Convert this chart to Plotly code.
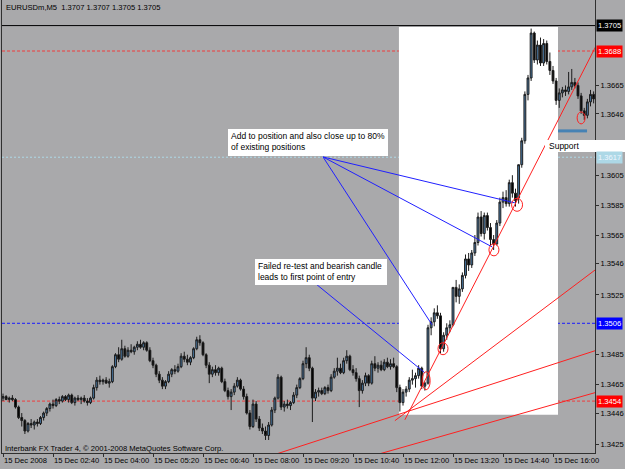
import plotly.graph_objects as go

# ---------------- data ----------------
bars = list(range(190))  # M5 bars, 15 Dec 2008 from 01:20

tick_bars = [0, 16, 32, 48, 64, 80, 96, 112, 128, 144, 160, 176]
tick_labels = ["15 Dec 2008", "15 Dec 02:40", "15 Dec 04:00", "15 Dec 05:20",
               "15 Dec 06:40", "15 Dec 08:00", "15 Dec 09:20", "15 Dec 10:40",
               "15 Dec 12:00", "15 Dec 13:20", "15 Dec 14:40", "15 Dec 16:00"]

opens = [
 1.3456,1.3457,1.3455,1.3456,1.3455,1.3450,1.3443,1.3441,1.3434,1.3439,
 1.3438,1.3440,1.3439,1.3443,1.3446,1.3449,1.3452,1.3451,1.3455,1.3454,
 1.3457,1.3455,1.3458,1.3453,1.3456,1.3455,1.3456,1.3454,1.3453,1.3456,
 1.3463,1.3468,1.3467,1.3468,1.3466,1.3467,1.3477,1.3485,1.3482,1.3489,
 1.3484,1.3488,1.3487,1.3490,1.3492,1.3490,1.3493,1.3488,1.3481,1.3478,
 1.3472,1.3468,1.3464,1.3467,1.3472,1.3475,1.3474,1.3477,1.3484,1.3482,
 1.3480,1.3483,1.3489,1.3495,1.3493,1.3485,1.3478,1.3472,1.3475,1.3473,
 1.3476,1.3467,1.3461,1.3457,1.3460,1.3464,1.3468,1.3462,1.3457,1.3446,
 1.3437,1.3452,1.3442,1.3436,1.3434,1.3431,1.3438,1.3448,1.3456,1.3470,
 1.3450,1.3452,1.3451,1.3453,1.3458,1.3463,1.3469,1.3479,1.3483,1.3476,
 1.3456,1.3460,1.3461,1.3459,1.3463,1.3461,1.3470,1.3474,1.3476,1.3473,
 1.3481,1.3484,1.3475,1.3473,1.3469,1.3461,1.3466,1.3471,1.3466,1.3479,
 1.3476,1.3478,1.3475,1.3480,1.3477,1.3479,1.3477,1.3463,1.3453,1.3460,
 1.3462,1.3468,1.3469,1.3471,1.3476,1.3464,1.3466,1.3503,1.3507,1.3513,
 1.3511,1.3489,1.3498,1.3503,1.3505,1.3530,1.3524,1.3529,1.3538,1.3549,
 1.3545,1.3553,1.3560,1.3577,1.3566,1.3578,1.3570,1.3562,1.3559,1.3573,
 1.3587,1.3590,1.3586,1.3600,1.3593,1.3590,1.3612,1.3628,1.3659,1.3670,
 1.3700,1.3682,1.3692,1.3680,1.3693,1.3681,1.3675,1.3668,1.3655,1.3660,
 1.3662,1.3661,1.3664,1.3667,1.3665,1.3658,1.3648,1.3645,1.3654,1.3659]

highs = [
 1.3459,1.3458,1.3457,1.3458,1.3456,1.3451,1.3446,1.3442,1.3440,1.3442,
 1.3441,1.3442,1.3444,1.3447,1.3450,1.3453,1.3455,1.3456,1.3457,1.3458,
 1.3458,1.3459,1.3459,1.3457,1.3458,1.3457,1.3458,1.3456,1.3457,1.3465,
 1.3470,1.3471,1.3469,1.3470,1.3469,1.3478,1.3486,1.3490,1.3495,1.3491,
 1.3490,1.3492,1.3491,1.3494,1.3495,1.3494,1.3494,1.3490,1.3483,1.3479,
 1.3474,1.3470,1.3468,1.3474,1.3476,1.3478,1.3479,1.3486,1.3487,1.3485,
 1.3484,1.3490,1.3497,1.3498,1.3494,1.3486,1.3480,1.3477,1.3478,1.3477,
 1.3477,1.3469,1.3463,1.3462,1.3466,1.3470,1.3469,1.3464,1.3459,1.3448,
 1.3455,1.3454,1.3444,1.3439,1.3437,1.3440,1.3450,1.3457,1.3472,1.3471,
 1.3454,1.3455,1.3454,1.3460,1.3465,1.3470,1.3481,1.3490,1.3485,1.3477,
 1.3462,1.3463,1.3463,1.3464,1.3465,1.3472,1.3476,1.3483,1.3479,1.3483,
 1.3488,1.3485,1.3478,1.3476,1.3471,1.3468,1.3473,1.3472,1.3481,1.3484,
 1.3480,1.3481,1.3482,1.3483,1.3482,1.3483,1.3478,1.3465,1.3462,1.3464,
 1.3470,1.3475,1.3473,1.3478,1.3477,1.3467,1.3505,1.3510,1.3516,1.3518,
 1.3513,1.3500,1.3506,1.3508,1.3530,1.3535,1.3532,1.3540,1.3552,1.3553,
 1.3555,1.3565,1.3580,1.3581,1.3580,1.3580,1.3573,1.3565,1.3575,1.3590,
 1.3594,1.3595,1.3602,1.3605,1.3596,1.3612,1.3630,1.3661,1.3672,1.3703,
 1.3701,1.3695,1.3697,1.3696,1.3695,1.3687,1.3678,1.3670,1.3663,1.3664,
 1.3665,1.3674,1.3676,1.3670,1.3667,1.3660,1.3650,1.3656,1.3662,1.3661]

lows = [
 1.3454,1.3455,1.3453,1.3454,1.3449,1.3442,1.3437,1.3432,1.3433,1.3436,
 1.3435,1.3437,1.3438,1.3441,1.3444,1.3447,1.3449,1.3450,1.3452,1.3453,
 1.3454,1.3453,1.3452,1.3451,1.3454,1.3452,1.3453,1.3451,1.3452,1.3455,
 1.3461,1.3465,1.3465,1.3466,1.3463,1.3466,1.3476,1.3480,1.3481,1.3483,
 1.3483,1.3486,1.3485,1.3488,1.3489,1.3488,1.3487,1.3480,1.3476,1.3470,
 1.3466,1.3462,1.3462,1.3466,1.3470,1.3472,1.3473,1.3476,1.3480,1.3478,
 1.3478,1.3482,1.3488,1.3491,1.3484,1.3476,1.3466,1.3470,1.3471,1.3471,
 1.3466,1.3460,1.3455,1.3448,1.3458,1.3463,1.3461,1.3455,1.3445,1.3435,
 1.3436,1.3440,1.3434,1.3432,1.3428,1.3428,1.3437,1.3446,1.3455,1.3448,
 1.3447,1.3449,1.3448,1.3452,1.3456,1.3462,1.3468,1.3476,1.3474,1.3440,
 1.3454,1.3457,1.3458,1.3458,1.3459,1.3460,1.3469,1.3471,1.3472,1.3472,
 1.3479,1.3474,1.3471,1.3467,1.3450,1.3459,1.3464,1.3464,1.3465,1.3474,
 1.3473,1.3474,1.3474,1.3476,1.3475,1.3476,1.3460,1.3447,1.3451,1.3457,
 1.3460,1.3465,1.3463,1.3469,1.3462,1.3461,1.3465,1.3498,1.3504,1.3509,
 1.3486,1.3487,1.3495,1.3500,1.3504,1.3520,1.3519,1.3527,1.3536,1.3541,
 1.3543,1.3551,1.3558,1.3564,1.3562,1.3568,1.3558,1.3555,1.3558,1.3571,
 1.3583,1.3584,1.3584,1.3590,1.3584,1.3586,1.3610,1.3626,1.3655,1.3668,
 1.3680,1.3679,1.3678,1.3678,1.3679,1.3672,1.3666,1.3652,1.3650,1.3657,
 1.3658,1.3659,1.3662,1.3663,1.3656,1.3646,1.3642,1.3643,1.3651,1.3653]

closes = [
 1.3457,1.3455,1.3456,1.3455,1.3450,1.3443,1.3441,1.3434,1.3439,1.3438,
 1.3440,1.3439,1.3443,1.3446,1.3449,1.3452,1.3451,1.3455,1.3454,1.3457,
 1.3455,1.3458,1.3453,1.3456,1.3455,1.3456,1.3454,1.3453,1.3456,1.3463,
 1.3468,1.3467,1.3468,1.3466,1.3467,1.3477,1.3485,1.3482,1.3489,1.3484,
 1.3488,1.3487,1.3490,1.3492,1.3490,1.3493,1.3488,1.3481,1.3478,1.3472,
 1.3468,1.3464,1.3467,1.3472,1.3475,1.3474,1.3477,1.3484,1.3482,1.3480,
 1.3483,1.3489,1.3495,1.3493,1.3485,1.3478,1.3472,1.3475,1.3473,1.3476,
 1.3467,1.3461,1.3457,1.3460,1.3464,1.3468,1.3462,1.3457,1.3446,1.3437,
 1.3452,1.3442,1.3436,1.3434,1.3431,1.3438,1.3448,1.3456,1.3470,1.3450,
 1.3452,1.3451,1.3453,1.3458,1.3463,1.3469,1.3479,1.3483,1.3476,1.3456,
 1.3460,1.3461,1.3459,1.3463,1.3461,1.3470,1.3474,1.3476,1.3473,1.3481,
 1.3484,1.3475,1.3473,1.3469,1.3461,1.3466,1.3471,1.3466,1.3479,1.3476,
 1.3478,1.3475,1.3480,1.3477,1.3479,1.3477,1.3463,1.3453,1.3460,1.3462,
 1.3468,1.3469,1.3471,1.3476,1.3464,1.3466,1.3503,1.3507,1.3513,1.3511,
 1.3489,1.3498,1.3503,1.3505,1.3530,1.3524,1.3529,1.3538,1.3549,1.3545,
 1.3553,1.3560,1.3577,1.3566,1.3578,1.3570,1.3562,1.3559,1.3573,1.3587,
 1.3590,1.3586,1.3600,1.3593,1.3588,1.3612,1.3628,1.3659,1.3670,1.3700,
 1.3682,1.3692,1.3680,1.3693,1.3681,1.3675,1.3668,1.3655,1.3660,1.3662,
 1.3661,1.3664,1.3667,1.3665,1.3658,1.3648,1.3645,1.3654,1.3659,1.3656]

# visible price scale labels (those hidden under the coloured boxes are left out)
price_ticks = [1.3665, 1.3646, 1.3605, 1.3585, 1.3565,
               1.3546, 1.3525, 1.3485, 1.3465, 1.3446, 1.3425]
price_tick_labels = ["%.4f" % v for v in price_ticks]

# horizontal price levels: bid, and four analyst lines
bid_price = 1.3705
level_prices = [1.3688, 1.3617, 1.3506, 1.3454]
level_colors = ["#f03c3c", "#add8e6", "#1a1aff", "#f03c3c"]

# red trendlines: (bar0, price0, bar1, price1)
red_t0 = [128.6, 125.4, 87.7, 120.6]
red_p0 = [1.34415, 1.34409, 1.34188, 1.34188]
red_t1 = [190.4, 190.4, 190.4, 190.4]
red_p1 = [1.36940, 1.35431, 1.34883, 1.34602]

# blue callout lines
blue_t0 = [102.4, 102.4, 102.4, 100.5]
blue_p0 = [1.36172, 1.36172, 1.36172, 1.35317]
blue_t1 = [163.8, 156.5, 137.3, 135.0]
blue_p1 = [1.35865, 1.35571, 1.35050, 1.34729]

# red ellipses marking entries
circle_bars = [135.4, 140.8, 157.1, 164.5, 185.0]
circle_prices = [1.34676, 1.34890, 1.35551, 1.35852, 1.36433]

# white rectangle (time/price object)
rect_bars = [126.7, 177.6]
rect_prices = [1.34449, 1.37041]

# support segment
support_bars = [177.6, 186.9]
support_price = 1.36346

# ---------------- layout helpers ----------------
W, H = 625, 469
ML, MR, MT, MB = 2, 30, 0, 16
X_RANGE = [-0.32, 189.44]
Y_RANGE = [1.34193, 1.37221]
BG = "#a9a9ab"
FONT = "Liberation Sans, Arial, sans-serif"


def px(x):
    return (x - ML) / (W - ML - MR)


def py(y):
    return (H - MB - y) / (H - MT - MB)


fig = go.Figure()

fig.add_trace(go.Candlestick(
    x=bars, open=opens, high=highs, low=lows, close=closes,
    increasing=dict(fillcolor="#4a7aa6", line=dict(color="#1c1c1c", width=1)),
    decreasing=dict(fillcolor="#000000", line=dict(color="#1c1c1c", width=1)),
    whiskerwidth=0, hoverinfo="skip", showlegend=False))

for t0, p0, t1, p1 in zip(red_t0, red_p0, red_t1, red_p1):
    fig.add_trace(go.Scatter(x=[t0, t1], y=[p0, p1], mode="lines",
                             line=dict(color="#ff2020", width=1),
                             hoverinfo="skip", showlegend=False))
for t0, p0, t1, p1 in zip(blue_t0, blue_p0, blue_t1, blue_p1):
    fig.add_trace(go.Scatter(x=[t0, t1], y=[p0, p1], mode="lines",
                             line=dict(color="#2020ff", width=1),
                             hoverinfo="skip", showlegend=False))
fig.add_trace(go.Scatter(x=support_bars, y=[support_price, support_price], mode="lines",
                         line=dict(color="#4682b4", width=3),
                         hoverinfo="skip", showlegend=False))

shapes = []
shapes.append(dict(type="rect", xref="x", yref="y", x0=rect_bars[0], x1=rect_bars[1],
                   y0=rect_prices[0], y1=rect_prices[1], fillcolor="white",
                   line=dict(width=0), layer="below"))
dashes = ["3px,2px", "2px,2px", "3px,2px", "3px,2px"]
for p, c, d in zip(level_prices, level_colors, dashes):
    shapes.append(dict(type="line", xref="paper", yref="y", x0=0, x1=1, y0=p, y1=p,
                       line=dict(color=c, width=1, dash=d), layer="below"))
shapes.append(dict(type="line", xref="paper", yref="y", x0=0, x1=1, y0=bid_price, y1=bid_price,
                   line=dict(color="black", width=1), layer="below"))
ry = [9, 6, 6, 6.5, 6]
rx = [4, 5, 5, 5.5, 4]
for b, p, a, r in zip(circle_bars, circle_prices, rx, ry):
    shapes.append(dict(type="circle", xref="x", yref="y", xsizemode="pixel", ysizemode="pixel",
                       xanchor=b, yanchor=p, x0=-a, x1=a, y0=-r, y1=r,
                       line=dict(color="#ff2020", width=1), layer="above"))
# text boxes (screen labels)
for (x0, x1, y0, y1) in [(228, 388, 129, 156), (255, 387, 259, 285), (545, 625, 140, 152)]:
    shapes.append(dict(type="rect", xref="paper", yref="paper", x0=px(x0), x1=px(x1),
                       y0=py(y1), y1=py(y0), fillcolor="white", line=dict(width=0),
                       layer="above"))

ann = []


def text(x, y, s, size=8.5, color="black"):
    ann.append(dict(xref="paper", yref="paper", x=px(x), y=py(y), text=s, showarrow=False,
                    xanchor="left", yanchor="middle", font=dict(family=FONT, size=size, color=color)))


text(4, 8, "EURUSDm,M5  1.3707 1.3707 1.3705 1.3705", 7.6)
text(3, 448, "Interbank FX Trader 4, © 2001-2008 MetaQuotes Software Corp.", 7.6)
text(229, 136, "Add to position and also close up to 80%", 8.5)
text(229, 147, "of existing positions", 8.5)
text(256, 266, "Failed re-test and bearish candle", 8.5)
text(256, 277, "leads to first point of entry", 8.5)
text(547, 146, "Support", 8.5)

box_prices = [bid_price] + level_prices
box_bg = ["#000000", "#ff0000", "#add8e6", "#0000ff", "#ff0000"]
box_fg = ["white", "white", "#eef6ff", "white", "white"]
for p, bg, fg in zip(box_prices, box_bg, box_fg):
    ann.append(dict(xref="paper", yref="y", x=1, y=p, xshift=1, text="%.4f" % p,
                    showarrow=False, xanchor="left", yanchor="middle", bgcolor=bg,
                    borderpad=1, font=dict(family=FONT, size=7.6, color=fg)))

fig.update_layout(
    width=W, height=H, margin=dict(l=ML, r=MR, t=MT, b=MB, pad=0, autoexpand=False),
    paper_bgcolor=BG, plot_bgcolor=BG, showlegend=False, boxgap=0.15,
    shapes=shapes, annotations=ann,
    font=dict(family=FONT, size=7.6, color="black"),
    xaxis=dict(range=X_RANGE, rangeslider=dict(visible=False), showgrid=False, zeroline=False,
               showline=True, linecolor="#303030", linewidth=1, ticks="outside", ticklen=3,
               tickcolor="#303030", tickvals=tick_bars, ticktext=tick_labels, tickangle=0,
               automargin=False, ticklabelposition="outside right",
               tickfont=dict(family=FONT, size=7.6)),
    yaxis=dict(range=Y_RANGE, side="right", showgrid=False, zeroline=False,
               showline=True, linecolor="#303030", linewidth=1, mirror=True, automargin=False,
               ticks="outside", ticklen=3, tickcolor="#303030",
               tickvals=price_ticks, ticktext=price_tick_labels,
               tickfont=dict(family=FONT, size=7.6)),
)

fig.write_html("out.html")
